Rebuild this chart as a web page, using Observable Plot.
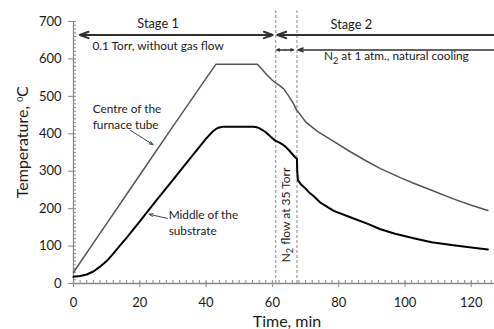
<!DOCTYPE html>
<html>
<head>
<meta charset="utf-8">
<script src="https://cdn.jsdelivr.net/npm/d3@7"></script>
<script src="https://cdn.jsdelivr.net/npm/@observablehq/plot@0.6"></script>
<style>
  body { margin: 0; background: #fff; }
  #chart svg { display: block; }
</style>
</head>
<body>
<div id="chart"></div>
<script>
// Temperature at the centre of the furnace tube (°C) versus time (min)
const tubeTime = [0, 10, 20, 30, 40, 43, 55.5, 57, 58.5, 60, 61, 62, 63.4, 65, 66.5, 67.4, 68.5, 70, 73.5, 77.5, 83.5, 88.6, 92.6, 98.6, 102.6, 108, 114.6, 120, 125];
const tubeTemp = [30, 160, 290, 420, 548, 586, 586, 571, 556, 543, 536, 530, 520, 500, 478, 462, 450, 432, 407, 385, 352, 326, 307, 283, 268, 249, 226, 209, 195];

// Temperature in the middle of the substrate (°C) versus time (min)
const substrateTime = [0, 2, 4, 6, 8, 10, 12, 14, 16, 20, 25, 30, 35, 40, 42, 43, 44, 45, 50, 54, 55, 56, 57, 58, 59, 60, 61, 62, 63, 64, 65, 66, 67, 67.4, 67.5, 67.7, 68.5, 69.5, 71, 72.5, 74.5, 78.5, 83.5, 88.6, 92.6, 97, 102.6, 108, 114.6, 120, 125];
const substrateTemp = [18, 20, 24, 32, 45, 60, 80, 101, 122, 166, 222, 277, 332, 387, 406, 413, 417, 419, 419, 419, 418, 415, 410, 404, 396, 388, 381, 377, 372, 365, 356, 346, 336, 333, 300, 276, 266, 258, 244, 233, 216, 194, 177, 160, 145, 133, 121, 110, 102, 96, 91];

// Stage boundaries (min)
const stageBounds = [61, 67.4];

// Axis ticks
const xTicks = [0, 20, 40, 60, 80, 100, 120];
const yTicks = [0, 100, 200, 300, 400, 500, 600, 700];
const xMinor = d3.range(0, 127, 2);
const yMinor = d3.range(0, 701, 10);

// Stage arrows: [from, to] in minutes; heads at both ends for double arrows
const stageRowTemp = [664, 624];
const doubleArrows = [[1.9, 60.1, 0], [61.3, 66.4, 1]];      // [start, end, row]
const openArrows = [[135, 61.5, 0], [135, 67.7, 1]];          // head only at "to"

// Labels
const stageLabels = ["Stage 1", "Stage 2"];
const stageLabelTime = [25.5, 83.8];
const stageLabelTemp = [693, 692];

const condLabels = ["0.1 Torr, without gas flow", "N2 at 1 atm., natural cooling"];
const condLabelTime = [25.5, 97.4];
const condLabelTemp = [634, 606];

const curveLabels = ["Centre of the\nfurnace tube", "Middle of the\nsubstrate"];
const curveLabelTime = [5.8, 28.7];
const curveLabelTemp = [447, 164];
// pointer arrows from each curve label to its curve: [t1, v1, t2, v2]
const pointers = [[17.2, 409, 24.0, 371], [28.3, 174, 22.8, 185]];

const flowLabel = "N2 flow at 35 Torr";
const flowLabelTime = 64.1;
const flowLabelTemp = 183;

const tube = tubeTime.map((t, i) => ({t, v: tubeTemp[i]}));
const substrate = substrateTime.map((t, i) => ({t, v: substrateTemp[i]}));

// split each double arrow at its midpoint so both ends get a head
const doubleSegs = doubleArrows.flatMap(([a, b, r]) => {
  const m = (a + b) / 2;
  return [{x1: m, x2: a, r}, {x1: m, x2: b, r}];
});
const openSegs = openArrows.map(([a, b, r]) => ({x1: a, x2: b, r}));
const arrowSegs = doubleSegs.concat(openSegs).map(d => ({...d, y: stageRowTemp[d.r]}));

const axisGrey = "#8a8a8a";
const ink = "#1a1a1a";

const plot = Plot.plot({
  width: 494,
  height: 329,
  marginLeft: 73,
  marginRight: 0,
  marginTop: 21,
  marginBottom: 46,
  style: {fontFamily: "Lato, 'Open Sans', sans-serif", fontSize: "13px", color: ink, background: "#fff", overflow: "visible"},
  x: {domain: [0, 127]},
  y: {domain: [0, 700]},
  marks: [
    // minor ticks, pointing into the plot
    Plot.ruleY(yMinor, {y: d => d, x1: 0, x2: 0.9, stroke: axisGrey}),
    Plot.ruleX(xMinor, {x: d => d, y1: 0, y2: 8, stroke: axisGrey}),
    Plot.ruleX(xTicks, {x: d => d, y1: 0, y2: 5, stroke: axisGrey}),
    Plot.axisY({ticks: yTicks, tickSize: 5, tickPadding: 7, stroke: axisGrey, fill: ink, label: null, fontSize: 13}),
    Plot.axisX({ticks: xTicks, tickSize: 4, tickPadding: 10, stroke: axisGrey, fill: ink, label: null, fontSize: 13}),
    Plot.ruleX([0], {y1: 0, y2: 700, stroke: axisGrey, strokeWidth: 1.3}),
    Plot.ruleY([0], {x1: 0, x2: 127, stroke: axisGrey, strokeWidth: 1.3}),

    // stage boundaries
    Plot.ruleX(stageBounds, {x: d => d, y1: 0, y2: 729, stroke: "#9a9a9a", strokeWidth: 1.2, strokeDasharray: "3,2"}),

    // curves
    Plot.line(tube, {x: "t", y: "v", stroke: "#555", strokeWidth: 1.5}),
    Plot.line(substrate, {x: "t", y: "v", stroke: "#000", strokeWidth: 2}),

    // stage arrows
    Plot.arrow(arrowSegs.filter(d => d.r === 0), {x1: "x1", x2: "x2", y1: "y", y2: "y", stroke: "#303030", strokeWidth: 2, headLength: 7, headAngle: 40}),
    Plot.arrow(arrowSegs.filter(d => d.r === 1), {x1: "x1", x2: "x2", y1: "y", y2: "y", stroke: "#303030", strokeWidth: 1.4, headLength: 6, headAngle: 40}),

    // pointer arrows
    Plot.arrow(pointers, {x1: d => d[0], y1: d => d[1], x2: d => d[2], y2: d => d[3], stroke: "#444", strokeWidth: 1, headLength: 6, headAngle: 40}),

    // labels
    Plot.text(stageLabels, {x: (d, i) => stageLabelTime[i], y: (d, i) => stageLabelTemp[i], text: d => d, fontSize: 12.8, fill: ink}),
    Plot.text(condLabels, {x: (d, i) => condLabelTime[i], y: (d, i) => condLabelTemp[i], text: d => d, fontSize: 11.8, fill: ink}),
    Plot.text(curveLabels, {x: (d, i) => curveLabelTime[i], y: (d, i) => curveLabelTemp[i], text: d => d, textAnchor: "start", lineHeight: 1.3, fontSize: 11.8, fill: ink}),
    Plot.text([flowLabel], {x: flowLabelTime, y: flowLabelTemp, text: d => d, rotate: -90, fontSize: 12, fill: ink}),

    // axis titles
    Plot.text(["Time, min"], {frameAnchor: "bottom", textAnchor: "middle", lineAnchor: "middle", dx: 3, dy: 38.7, text: d => d, fontSize: 16, fill: ink}),
    Plot.text(["Temperature, 0C"], {frameAnchor: "left", textAnchor: "middle", lineAnchor: "middle", dx: -50.5, dy: -10.3, rotate: -90, text: d => d, fontSize: 16, fill: ink})
  ]
});

// typographic sub/superscripts
d3.select(plot).selectAll("text").each(function () {
  const s = this.textContent;
  const el = d3.select(this);
  if (this.querySelector("tspan")) return;
  const fs = parseFloat(el.attr("font-size")) || 13;
  if (s.startsWith("N2")) {
    el.text(null);
    el.append("tspan").text("N");
    el.append("tspan").attr("dy", fs * 0.28).attr("font-size", fs * 0.7).text("2");
    el.append("tspan").attr("dy", -fs * 0.28).text(s.slice(2));
  } else if (s === "Temperature, 0C") {
    el.text(null);
    el.append("tspan").text("Temperature, ");
    el.append("tspan").attr("dy", -fs * 0.4).attr("font-size", fs * 0.65).text("0");
    el.append("tspan").attr("dy", fs * 0.4).text("C");
  }
});

document.getElementById("chart").appendChild(plot);
</script>
</body>
</html>
